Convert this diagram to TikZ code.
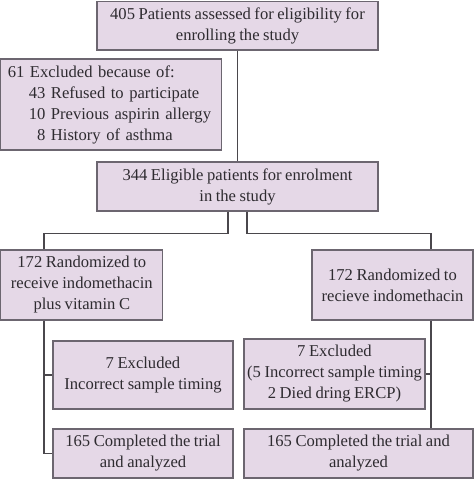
\documentclass[tikz,border=0pt]{standalone}
\usepackage{fontspec}
\setmainfont[WordSpace=0.85]{Liberation Serif}
\begin{document}
\begin{tikzpicture}
[
    x=1pt, y=-1pt,
    box/.style={draw=boxline, fill=boxfill, line width=1.1pt, text=txt, inner sep=0pt,
        font=\fontsize{16.6}{21}\selectfont, align=center},
    link/.style={draw=linkc, line width=1.1pt},
]
\definecolor{boxfill}{HTML}{E5D8E7}
\definecolor{boxline}{HTML}{6C6670}
\definecolor{linkc}{HTML}{4A474C}
\definecolor{txt}{HTML}{2E2B30}
\useasboundingbox (0,0) rectangle (474,502);
\node [box, minimum width=281pt, minimum height=48.5pt] (assessed) at (237.5,25.75)
{405 Patients assessed for eligibility for\\enrolling the study};
\node [box, minimum width=221pt, minimum height=91pt, text width=207pt, align=left] (excluded) at (111.3,104.5)
{61 Excluded because of:\\
\hspace*{21pt}43 Refused to participate\\
\hspace*{21pt}10 Previous aspirin allergy\\
\hspace*{21pt}\phantom{1}8 History of asthma};
\node [box, minimum width=281pt, minimum height=49pt] (eligible) at (237.5,186.5)
{344 Eligible patients for enrolment\\in the study};
\node [box, minimum width=162pt, minimum height=70pt] (randL) at (81.8,285)
{172 Randomized to\\receive indomethacin\\plus vitamin C};
\node [box, minimum width=161pt, minimum height=70pt] (randR) at (392.5,285)
{172 Randomized to\\recieve indomethacin};
\node [box, minimum width=180pt, minimum height=68pt] (exclL) at (143,375)
{7 Excluded\\Incorrect sample timing};
\node [box, minimum width=181pt, minimum height=70pt] (exclR) at (334.5,374)
{7 Excluded\\(5 Incorrect sample timing\\2 Died dring ERCP)};
\node [box, minimum width=180pt, minimum height=49pt] (doneL) at (143,453.5)
{165 Completed the trial\\and analyzed};
\node [box, minimum width=229pt, minimum height=49pt] (doneR) at (358.5,453.5)
{165 Completed the trial and\\analyzed};
\coordinate (spineL) at ([xshift=-37.8pt]randL.south);
\coordinate (spineR) at ([xshift=38.5pt]randR.south);
\draw [link] (assessed) -- (eligible);
\draw [link] ([xshift=-9.5pt]eligible.south) -- ++(0,22) -| ([xshift=-37.8pt]randL.north);
\draw [link] ([xshift=9.5pt]eligible.south) -- ++(0,22) -| ([xshift=38.5pt]randR.north);
\draw [link] (spineL) |- (doneL.west);
\draw [link] (spineL |- exclL.west) -- (exclL.west);
\draw [link] (spineR) -- (spineR |- doneR.north);
\draw [link] (exclR.east) -- (exclR.east -| spineR);
\end{tikzpicture}
\end{document}
